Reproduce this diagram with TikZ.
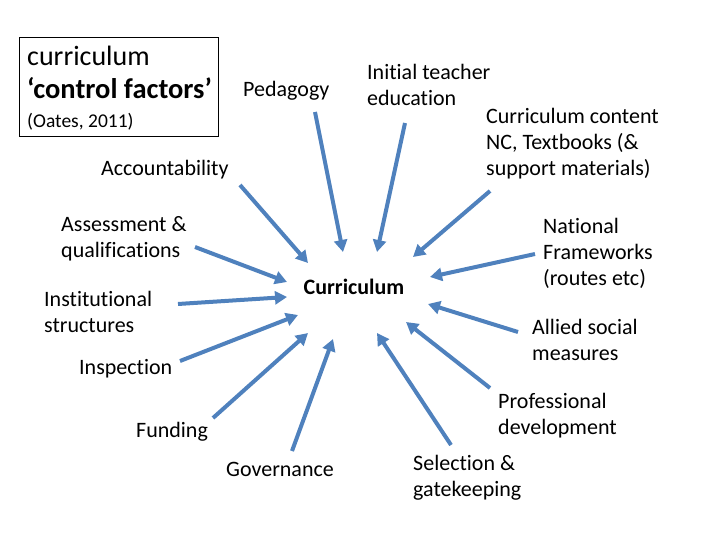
\documentclass[tikz,border=0pt]{standalone}
\usepackage{fontspec}
\setmainfont{Carlito}[Ligatures={TeX,NoCommon}]
\usetikzlibrary{arrows.meta}
\definecolor{arrowblue}{RGB}{79,129,189}

\begin{document}
\begin{tikzpicture}[x=1pt, y=-1pt, lbl/.style={anchor=base west, inner sep=0pt, align=left, font=\fontsize{22}{26}\selectfont}, hub/.style={anchor=base, inner sep=0pt, font=\fontsize{22}{26}\selectfont\bfseries}, n/.style={-{Triangle[length=12pt, width=13pt]}, line width=4pt, arrowblue}]
            \useasboundingbox (0,0) rectangle (720,540);
            % title box
            \node[draw, anchor=north west, minimum width=199pt, minimum height=99pt, inner sep=0pt] (ctrl) at (19,37) {};
            \node[lbl, font=\fontsize{28}{30}\selectfont] (ctrlA) at (27,66) {curriculum};
            \node[lbl, font=\fontsize{28.5}{32}\selectfont\bfseries] (ctrlB) at (27,99) {`control factors'};
            \node[lbl, font=\fontsize{19.5}{23}\selectfont] (ctrlC) at (27,128) {(Oates, 2011)};
            % nodes (base = last line)
            \node[hub] (cur) at (354,294) {Curriculum};
            \node[lbl] (ped) at (243,97) {Pedagogy};
            \node[lbl] (ite) at (367,106) {Initial teacher\\education};
            \node[lbl] (cont) at (486,176) {Curriculum content\\NC, Textbooks (\&\\support materials)};
            \node[lbl] (natl) at (543,285) {National\\Frameworks\\(routes etc)};
            \node[lbl] (allied) at (532,360) {Allied social\\measures};
            \node[lbl] (prof) at (498,434) {Professional\\development};
            \node[lbl] (sel) at (413,496) {Selection \&\\gatekeeping};
            \node[lbl] (gov) at (226,476) {Governance};
            \node[lbl] (fund) at (136,437) {Funding};
            \node[lbl] (insp) at (79,374) {Inspection};
            \node[lbl] (inst) at (44,332) {Institutional\\structures};
            \node[lbl] (assess) at (61,258) {Assessment \&\\qualifications};
            \node[lbl] (acc) at (101,176) {Accountability};
            % arrow tips round the hub
            \coordinate (tped) at (343,252);
            \coordinate (tite) at (377,252);
            \coordinate (tcont) at (413,257);
            \coordinate (tnatl) at (430,277);
            \coordinate (tallied) at (428,304);
            \coordinate (tprof) at (406,322);
            \coordinate (tsel) at (377,333);
            \coordinate (tgov) at (333,339);
            \coordinate (tfund) at (308,333);
            \coordinate (tinsp) at (298,315);
            \coordinate (tinst) at (287,297);
            \coordinate (tassess) at (287,282);
            \coordinate (tacc) at (308,263);
            % edges
            \draw[n] ([shift={(72,15)}]ped.base west) -- (tped);
            \draw[n] ([shift={(38,17)}]ite.base west) -- (tite);
            \draw[n] ([shift={(4,15)}]cont.base west) -- (tcont);
            \draw[n] ([shift={(-8,-31)}]natl.base west) -- (tnatl);
            \draw[n] ([shift={(-14,-28)}]allied.base west) -- (tallied);
            \draw[n] ([shift={(-8,-46)}]prof.base west) -- (tprof);
            \draw[n] ([shift={(38,-51)}]sel.base west) -- (tsel);
            \draw[n] ([shift={(66,-25)}]gov.base west) -- (tgov);
            \draw[n] ([shift={(77,-19)}]fund.base west) -- (tfund);
            \draw[n] ([shift={(101,-13)}]insp.base west) -- (tinsp);
            \draw[n] ([shift={(134,-28)}]inst.base west) -- (tinst);
            \draw[n] ([shift={(134,-11)}]assess.base west) -- (tassess);
            \draw[n] ([shift={(139,9)}]acc.base west) -- (tacc);
        \end{tikzpicture}
\end{document}
